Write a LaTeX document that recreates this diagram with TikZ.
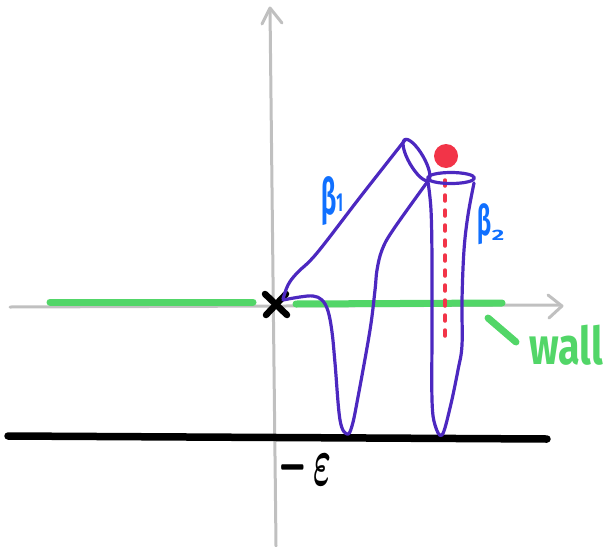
\documentclass[tikz,border=0pt]{standalone}
\usepackage{fix-cm}
\usepackage{bm}
\usepackage{fontspec}
\newfontfamily\hand{Fira Sans}
\definecolor{axisgray}{RGB}{192,192,192}
\definecolor{wallgreen}{RGB}{82,214,104}
\definecolor{purp}{RGB}{76,40,192}
\definecolor{lblblue}{RGB}{16,112,255}
\definecolor{dotred}{RGB}{242,52,72}
\begin{document}
\begin{tikzpicture}[x=1pt,y=1pt,line cap=round,line join=round,
  axisline/.style={draw=axisgray,line width=3},
  wallline/.style={draw=wallgreen,line width=7},
  floorline/.style={draw=black,line width=7.5},
  tube/.style={draw=purp,line width=3.2},
  lbl/.style={inner sep=0pt,text=lblblue}]
\useasboundingbox (0,0) rectangle (607,-546);
% axes
\coordinate (hL) at (10,-307);
\coordinate (hR) at (560,-305);
\coordinate (vB) at (276,-546);
\coordinate (vT) at (270,-9);
\draw[axisline] (hL) -- (hR);
\draw[axisline] (548,-295) -- (562,-306) -- (549,-318);
\draw[axisline] (vB) -- (vT);
\draw[axisline] (262,-24) -- (270,-8) -- (282,-23);
% wall
\draw[wallline] (50,-302) -- (253,-302);
\draw[wallline] (296,-304) -- (502,-303);
\draw[wallline] (488,-318) -- (516,-342);
\node[inner sep=0pt,text=wallgreen,font=\hand\bfseries\fontsize{52}{52}\selectfont] (wall) at (566,-345) {\scalebox{0.76}[1]{wall}};
% floor
\draw[floorline] (8,-436) -- (547,-439);
\node[inner sep=0pt,font=\fontsize{40}{40}\selectfont] (eps) at (305,-467) {\raisebox{-0.08em}{\scalebox{0.8}[2.2]{$\bm{-}$}}\,\scalebox{0.85}[1.75]{$\bm{\varepsilon}$}};
% X mark
\draw[line width=6.5] (265,-294) -- (287,-315);
\draw[line width=6.5] (286,-294) -- (266,-315);
% red dotted line and dot
\draw[dotred,line width=3.5,dash pattern=on 6 off 9] (445,-180) -- (445,-340);
\fill[dotred] (446,-156) circle (12);
% beta1
\draw[tube] plot[smooth,tension=0.6] coordinates {(405,-140) (361,-196) (317,-253) (297,-273) (288,-285) (283,-299)};
\draw[tube] plot[smooth,tension=0.6] coordinates {(283,-300) (300,-297) (313,-296) (322,-300) (328,-311) (332,-332) (335,-363) (340,-420) (347,-434) (352,-426) (358,-397) (370,-330) (375,-290) (377,-270) (382,-250) (393,-230) (428,-181)};
\draw[tube,rotate around={-60:(416.5,-160)}] (416.5,-160) ellipse [x radius=23.5, y radius=7.5];
% beta2
\draw[tube] (451,-178) ellipse [x radius=23.5, y radius=5.5];
\draw[tube] plot[smooth,tension=0.6] coordinates {(428,-182) (431,-210) (432,-260) (432,-330) (432,-400) (435,-425) (442,-435) (450,-408) (458,-370) (462,-345) (462,-300) (464,-250) (468,-215) (474,-183)};
% labels
\node[lbl,font=\hand\bfseries\fontsize{50}{50}\selectfont] (b1) at (332,-201) {\scalebox{0.5}[1]{β}\raisebox{0.05em}{\fontsize{26}{26}\selectfont\scalebox{0.55}[1]{1}}};
\node[lbl,font=\hand\bfseries\fontsize{42}{42}\selectfont] (b2) at (491,-224) {\scalebox{0.55}[1]{β}\raisebox{-0.12em}{\fontsize{20}{20}\selectfont\scalebox{1.2}[0.75]{2}}};
\end{tikzpicture}
\end{document}
